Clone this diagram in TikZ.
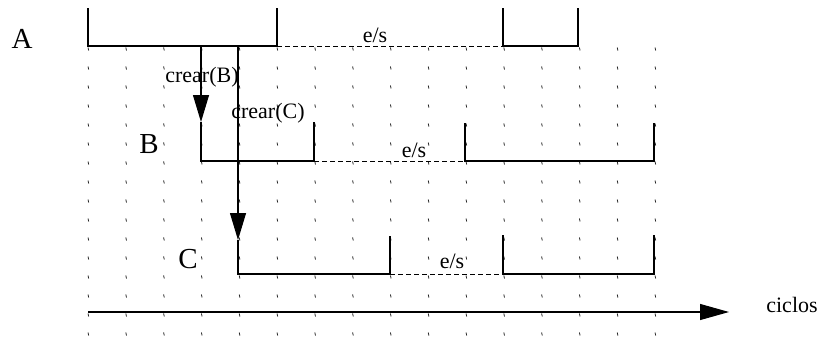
\documentclass[tikz,border=0pt]{standalone}
\usepackage{fontspec}
\setmainfont{Liberation Serif}
\usepackage{tikz}
\usetikzlibrary{arrows.meta,positioning,calc}
\definecolor{grid}{gray}{0.15}

\begin{document}
\begin{tikzpicture}[x=1pt,y=-1pt,
  sig/.style={line width=1.1pt},
  idle/.style={line width=1pt,dash pattern=on 5pt off 3pt},
  tick/.style={draw=grid,line width=0.8pt},
  fork/.style={line width=1.1pt,-{Triangle[length=27pt,width=16pt]}},
  big/.style={font=\fontsize{29}{31}\selectfont,anchor=base},
  lab/.style={font=\fontsize{22}{24}\selectfont,anchor=base}]
\useasboundingbox (0,0) rectangle (825,349);
\foreach \i in {0,...,15}
  \foreach \j in {0,...,15}
    \draw[tick] ({88+37.8*\i},{47.5+19*\j}) -- ++(0.7,3);
% A
\coordinate (aLt) at (88,8);   \coordinate (aL) at (88,46);
\coordinate (aR) at (277,46);  \coordinate (aRt) at (277,8);
\coordinate (aS) at (503,46);  \coordinate (aSt) at (503,8);
\coordinate (aE) at (578,46);  \coordinate (aEt) at (578,8);
\draw[sig] (aLt)--(aL)--(aR)--(aRt);
\draw[idle] (aR)--(aS);
\draw[sig] (aSt)--(aS)--(aE)--(aEt);
% B
\coordinate (forkB) at (201,46); \coordinate (tipB) at (201,122);
\coordinate (bL) at (201,161);  \coordinate (bR) at (314,161);  \coordinate (bRt) at (314,122);
\coordinate (bS) at (465,161);  \coordinate (bSt) at (465,123);
\coordinate (bE) at (654,161);  \coordinate (bEt) at (654,123);
\draw[fork] (forkB)--(tipB);
\draw[sig] (tipB)--(bL)--(bR)--(bRt);
\draw[idle] (bR)--(bS);
\draw[sig] (bSt)--(bS)--(bE)--(bEt);
% C
\coordinate (forkC) at (238,46); \coordinate (tipC) at (238,240);
\coordinate (cL) at (238,274);  \coordinate (cR) at (390,274);  \coordinate (cRt) at (390,236);
\coordinate (cS) at (503,274);  \coordinate (cSt) at (503,235);
\coordinate (cE) at (654,274);  \coordinate (cEt) at (654,235);
\draw[fork] (forkC)--(tipC);
\draw[sig] (tipC)--(cL)--(cR)--(cRt);
\draw[idle] (cR)--(cS);
\draw[sig] (cSt)--(cS)--(cE)--(cEt);
% eje
\coordinate (ax0) at (88,312); \coordinate (ax1) at (729,312);
\draw[sig,-{Triangle[length=29pt,width=16pt]}] (ax0)--(ax1);
\node[big] (nA) at (22,48) {A};
\node[big] (nB) at (149,153) {B};
\node[big] (nC) at (188,268) {C};
\node[lab] (crB) at (202,82) {crear(B)};
\node[lab] (crC) at (268,118) {crear(C)};
\node[lab] (esA) at (375,42) {e/s};
\node[lab] (esB) at (414,157) {e/s};
\node[lab] (esC) at (452,268) {e/s};
\node[lab] (cic) at (792,312) {ciclos};
\end{tikzpicture}
\end{document}
